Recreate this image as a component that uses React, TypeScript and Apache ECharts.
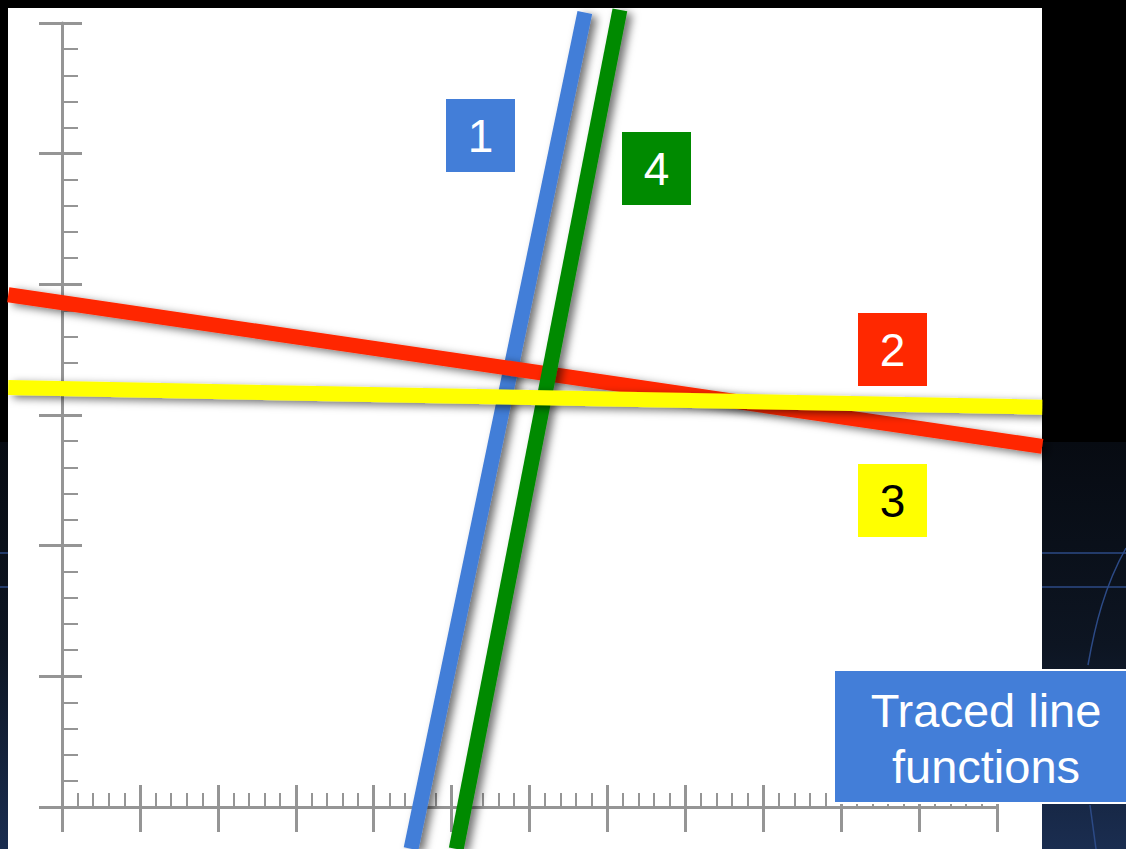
import React, { useEffect, useRef } from "react";
import * as echarts from "echarts";

// Axis ranges / ticks (data units)
const xTicks = [0, 12, 1];
const yTicks = [0, 6, 1];

// Traced lines: two points each [x, y] in data units
const line1 = [
  [6.71, 6.08],
  [4.48, -0.32],
];
const line2 = [
  [-0.69, 3.92],
  [12.58, 2.76],
];
const line3 = [
  [-0.69, 3.21],
  [12.58, 3.06],
];
const line4 = [
  [7.16, 6.1],
  [5.06, -0.32],
];

const lineLabels = ["1", "2", "3", "4"];
const caption = ["Traced line", "functions"];

const BLUE = "#437ed8";
const RED = "#ff2800";
const YELLOW = "#ffff00";
const GREEN = "#008a00";
const AXIS = "#959595";

export default function App() {
  const ref = useRef<HTMLDivElement>(null);

  useEffect(() => {
    if (!ref.current) return;
    const chart = echarts.init(ref.current, undefined, { renderer: "svg" });

    const axisBase = {
      type: "value" as const,
      splitLine: { show: false },
      axisLabel: { show: false },
    };

    const lineSeries = (name: string, pts: number[][], color: string, z: number) => ({
      name,
      type: "custom",
      z,
      clip: false,
      data: [[pts[0][0], pts[0][1], pts[1][0], pts[1][1]]],
      renderItem: (_params: any, api: any) => {
        const p1 = api.coord([api.value(0), api.value(1)]);
        const p2 = api.coord([api.value(2), api.value(3)]);
        return {
          type: "line",
          shape: { x1: p1[0], y1: p1[1], x2: p2[0], y2: p2[1] },
          style: {
            stroke: color,
            lineWidth: 15,
            lineCap: "butt",
            shadowColor: "rgba(0,0,0,0.55)",
            shadowBlur: 8,
            shadowOffsetX: 5,
            shadowOffsetY: 3,
          },
        };
      },
    });

    const box = (label: string, x: number, y: number, fill: string, textColor: string) => ({
      type: "group",
      x,
      y,
      z: 20,
      children: [
        { type: "rect", shape: { x: 0, y: 0, width: 69, height: 73 }, style: { fill }, z: 20 },
        {
          type: "text",
          x: 34.5,
          y: 37,
          z: 21,
          style: {
            text: label,
            fill: textColor,
            font: '46px "Liberation Sans", Arial, sans-serif',
            textAlign: "center",
            textVerticalAlign: "middle",
          },
        },
      ],
    });

    chart.setOption({
      animation: false,
      backgroundColor: "#000000",
      grid: { left: 62, top: 23, width: 935, height: 784, containLabel: false },
      xAxis: [
        {
          ...axisBase,
          min: xTicks[0],
          max: xTicks[1],
          interval: xTicks[2],
          position: "bottom",
          axisLine: { show: true, lineStyle: { color: AXIS, width: 3 } },
          axisTick: { show: true, inside: false, length: 25, lineStyle: { color: AXIS, width: 3 } },
          minorTick: { show: false },
        },
        {
          ...axisBase,
          min: xTicks[0],
          max: xTicks[1],
          interval: xTicks[2],
          position: "bottom",
          axisLine: { show: false },
          axisTick: { show: true, inside: true, length: 22, lineStyle: { color: AXIS, width: 3 } },
          minorTick: { show: true, splitNumber: 5, length: 14, lineStyle: { color: AXIS, width: 2 } },
        },
      ],
      yAxis: [
        {
          ...axisBase,
          min: yTicks[0],
          max: yTicks[1],
          interval: yTicks[2],
          position: "left",
          axisLine: { show: true, lineStyle: { color: AXIS, width: 3 } },
          axisTick: { show: true, inside: false, length: 23, lineStyle: { color: AXIS, width: 3 } },
          minorTick: { show: false },
        },
        {
          ...axisBase,
          min: yTicks[0],
          max: yTicks[1],
          interval: yTicks[2],
          position: "left",
          axisLine: { show: false },
          axisTick: { show: true, inside: true, length: 20, lineStyle: { color: AXIS, width: 3 } },
          minorTick: { show: true, splitNumber: 5, length: 16, lineStyle: { color: AXIS, width: 2 } },
        },
      ],
      series: [
        lineSeries(lineLabels[0], line1, BLUE, 2),
        lineSeries(lineLabels[1], line2, RED, 3),
        lineSeries(lineLabels[3], line4, GREEN, 4),
        lineSeries(lineLabels[2], line3, YELLOW, 5),
      ],
      graphic: [
        // stage background (dark navy) at the bottom
        {
          type: "rect",
          z: -20,
          shape: { x: 0, y: 442, width: 1126, height: 407 },
          style: {
            fill: new echarts.graphic.LinearGradient(0, 0, 0, 1, [
              { offset: 0, color: "#070b12" },
              { offset: 0.5, color: "#0d1522" },
              { offset: 1, color: "#1a2d50" },
            ]),
          },
        },
        { type: "line", z: -19, shape: { x1: 0, y1: 553, x2: 1126, y2: 553 }, style: { stroke: "#2c4a86", lineWidth: 1.5 } },
        { type: "line", z: -19, shape: { x1: 0, y1: 587, x2: 1126, y2: 587 }, style: { stroke: "#2c4a86", lineWidth: 1.5 } },
        {
          type: "bezierCurve",
          z: -19,
          shape: { x1: 1126, y1: 548, x2: 1088, y2: 665, cpx1: 1105, cpy1: 585, cpx2: 1095, cpy2: 625 },
          style: { stroke: "#2c4a86", lineWidth: 1.5, fill: "none" },
        },
        {
          type: "line",
          z: -19,
          shape: { x1: 1090, y1: 805, x2: 1096, y2: 849 },
          style: { stroke: "#2c4a86", lineWidth: 1.5 },
        },
        // white slide area
        { type: "rect", z: -10, shape: { x: 8, y: 8, width: 1034, height: 841 }, style: { fill: "#ffffff" } },
        box(lineLabels[0], 446, 99, BLUE, "#ffffff"),
        box(lineLabels[3], 622, 132, GREEN, "#ffffff"),
        box(lineLabels[1], 858, 313, RED, "#ffffff"),
        box(lineLabels[2], 858, 464, YELLOW, "#000000"),
        {
          type: "group",
          x: 834,
          y: 670,
          z: 20,
          children: [
            {
              type: "rect",
              z: 20,
              shape: { x: 0, y: 0, width: 300, height: 133 },
              style: { fill: BLUE, stroke: "#ffffff", lineWidth: 2 },
            },
            {
              type: "text",
              z: 21,
              x: 152,
              y: 40,
              style: {
                text: caption[0],
                fill: "#ffffff",
                font: '47px "Liberation Sans", Arial, sans-serif',
                textAlign: "center",
                textVerticalAlign: "middle",
              },
            },
            {
              type: "text",
              z: 21,
              x: 152,
              y: 96,
              style: {
                text: caption[1],
                fill: "#ffffff",
                font: '47px "Liberation Sans", Arial, sans-serif',
                textAlign: "center",
                textVerticalAlign: "middle",
              },
            },
          ],
        },
      ],
    });

    return () => chart.dispose();
  }, []);

  return (
    <div
      ref={ref}
      style={{ position: "fixed", left: 0, top: 0, width: 1126, height: 849 }}
    />
  );
}
